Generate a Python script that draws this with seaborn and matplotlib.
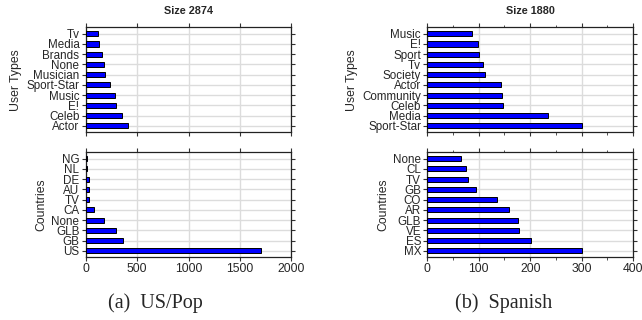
import numpy as np
import pandas as pd
import matplotlib
matplotlib.use("Agg")
import matplotlib.pyplot as plt
from matplotlib.ticker import MultipleLocator
import seaborn as sns

# US/Pop data (top of each list is drawn at the top of the panel)
us_types = ["Tv", "Media", "Brands", "None", "Musician", "Sport-Star", "Music", "E!", "Celeb", "Actor"]
us_types_n = [116, 132, 158, 174, 184, 233, 284, 294, 355, 407]
us_countries = ["NG", "NL", "DE", "AU", "TV", "CA", "None", "GLB", "GB", "US"]
us_countries_n = [16, 15, 32, 32, 36, 78, 178, 291, 362, 1703]

# Spanish data
es_types = ["Music", "E!", "Sport", "Tv", "Society", "Actor", "Community", "Celeb", "Media", "Sport-Star"]
es_types_n = [87, 98, 101, 108, 113, 143, 146, 147, 235, 301]
es_countries = ["None", "CL", "TV", "GB", "CO", "AR", "GLB", "VE", "ES", "MX"]
es_countries_n = [65, 76, 79, 95, 135, 159, 176, 178, 202, 300]

sns.set_style("white")
plt.rcParams["font.family"] = ["Liberation Sans", "DejaVu Sans"]

fig = plt.figure(figsize=(6.42, 3.2), dpi=100)

lx, rx, w = 0.1335, 0.6656, 0.3205
top_y, bot_y, h = 0.5875, 0.197, 0.327

panels = [
    (lx, top_y, us_types, us_types_n, "User Types", 2000, 500, None, True),
    (lx, bot_y, us_countries, us_countries_n, "Countries", 2000, 500, None, False),
    (rx, top_y, es_types, es_types_n, "User Types", 400, 100, 50, True),
    (rx, bot_y, es_countries, es_countries_n, "Countries", 400, 100, 50, False),
]

for x0, y0, cats, vals, ylab, xmax, major, minor, is_top in panels:
    ax = fig.add_axes([x0, y0, w, h])
    df = pd.DataFrame({"cat": cats, "n": vals})
    sns.barplot(data=df, x="n", y="cat", orient="h", color="#0000ff", saturation=1,
                edgecolor="black", linewidth=0.7, width=0.5, ax=ax, zorder=3)
    ax.set_xlim(0, xmax)
    ax.set_ylim(len(cats) - 0.4, -0.62)
    ax.xaxis.set_major_locator(MultipleLocator(major))
    if minor:
        ax.xaxis.set_minor_locator(MultipleLocator(minor))
    ax.grid(True, axis="both", color="#dcdcdc", linewidth=1.0, zorder=0)
    ax.set_axisbelow(True)
    ax.tick_params(axis="both", which="major", direction="out", length=3, width=0.8,
                   color="#333333", labelsize=8.4, pad=1.5,
                   top=True, right=True, bottom=True, left=True)
    ax.tick_params(axis="x", which="minor", direction="out", length=1.8, width=0.6,
                   color="#333333", top=True, bottom=True)
    ax.tick_params(axis="x", labelsize=8.8)
    if is_top:
        ax.tick_params(axis="x", labelbottom=False)
    ax.set_xlabel("")
    ax.set_ylabel(ylab, fontsize=8.8, labelpad=3)
    for s in ax.spines.values():
        s.set_visible(True)
        s.set_color("#222222")
        s.set_linewidth(0.9)

fig.text(lx + w / 2, 0.965, "Size 2874", ha="center", va="center", fontsize=7.8, fontweight="bold")
fig.text(rx + w / 2, 0.965, "Size 1880", ha="center", va="center", fontsize=7.8, fontweight="bold")

fig.text(155 / 642, 1 - 303 / 320, "(a)  US/Pop", ha="center", va="center",
         fontsize=14.5, family=["Liberation Serif", "DejaVu Serif"])
fig.text(504 / 642, 1 - 303 / 320, "(b)  Spanish", ha="center", va="center",
         fontsize=14.5, family=["Liberation Serif", "DejaVu Serif"])

fig.savefig("out.png", dpi=100)
